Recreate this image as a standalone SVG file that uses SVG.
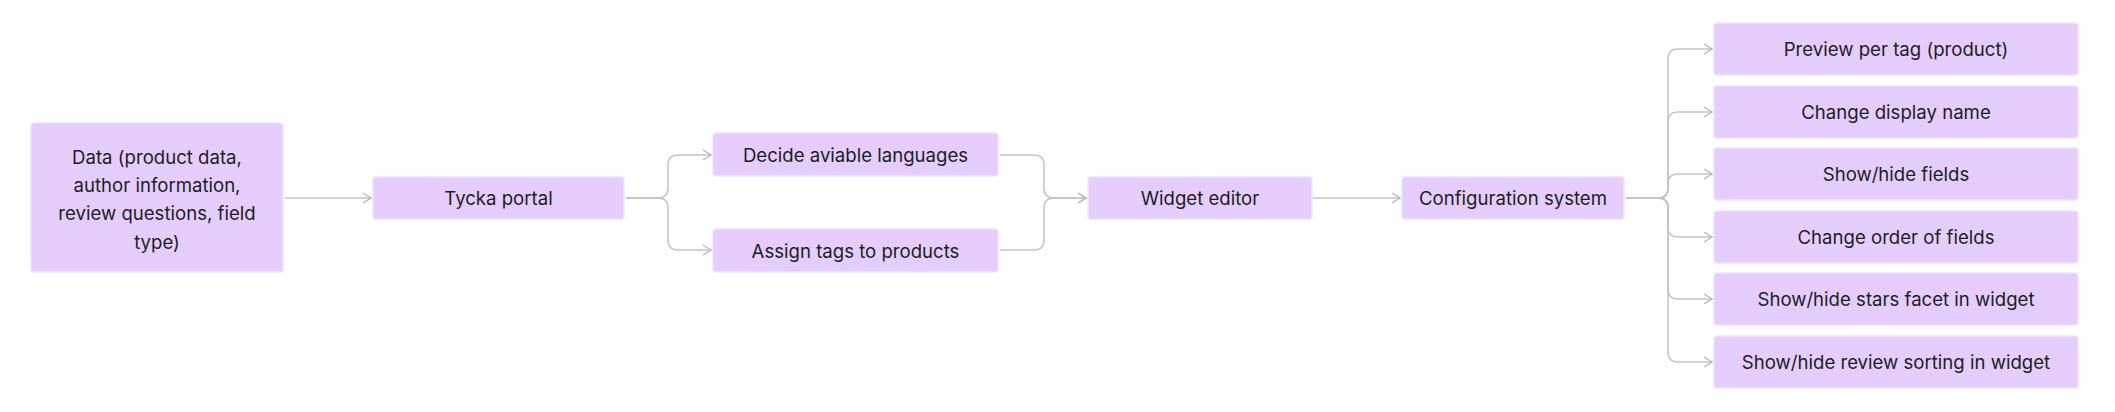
<svg xmlns="http://www.w3.org/2000/svg" width="2115" height="412" viewBox="0 0 2115 412">
<defs>
<style>
.box{fill:#e5cdfd;stroke:#efe2fb;stroke-width:1.5}
.lbl{font-family:Inter,"Liberation Sans",sans-serif;font-size:18.6px;fill:#1e1e1e;text-anchor:middle;dominant-baseline:central}
.c{fill:none;stroke:#c4c4c4;stroke-width:1.5}
</style>
<marker id="ah" viewBox="0 0 10 12" refX="9" refY="6" markerWidth="10" markerHeight="12" markerUnits="userSpaceOnUse" orient="auto">
<path d="M1,1 L9,6 L1,11" fill="none" stroke="#b8b8b8" stroke-width="1.3"/>
</marker>
</defs>
<rect width="2115" height="412" fill="#ffffff"/>
<g id="connectors">
<path class="c" d="M285,198 H371" marker-end="url(#ah)"/>
<path class="c" d="M626,198 H658 Q668,198 668,188 V165 Q668,155 678,155 H711" marker-end="url(#ah)"/>
<path class="c" d="M626,198 H658 Q668,198 668,208 V240 Q668,250 678,250 H711" marker-end="url(#ah)"/>
<path class="c" d="M1000,155 H1034 Q1044,155 1044,165 V188 Q1044,198 1054,198 H1086" marker-end="url(#ah)"/>
<path class="c" d="M1000,250 H1034 Q1044,250 1044,240 V208 Q1044,198 1054,198 H1086" marker-end="url(#ah)"/>
<path class="c" d="M1313,198 H1400" marker-end="url(#ah)"/>
<path class="c" d="M1626,198 H1658 Q1668,198 1668,188 V59 Q1668,49 1678,49 H1712" marker-end="url(#ah)"/>
<path class="c" d="M1626,198 H1658 Q1668,198 1668,188 V122 Q1668,112 1678,112 H1712" marker-end="url(#ah)"/>
<path class="c" d="M1626,198 H1658 Q1668,198 1668,188 V184 Q1668,174 1678,174 H1712" marker-end="url(#ah)"/>
<path class="c" d="M1626,198 H1658 Q1668,198 1668,208 V227 Q1668,237 1678,237 H1712" marker-end="url(#ah)"/>
<path class="c" d="M1626,198 H1658 Q1668,198 1668,208 V289 Q1668,299 1678,299 H1712" marker-end="url(#ah)"/>
<path class="c" d="M1626,198 H1658 Q1668,198 1668,208 V352 Q1668,362 1678,362 H1712" marker-end="url(#ah)"/>
</g>
<g id="data">
<rect class="box" x="31" y="123" width="252" height="149" rx="3"/>
<text class="lbl" x="157" y="157">Data (product data,</text>
<text class="lbl" x="157" y="185">author information,</text>
<text class="lbl" x="157" y="213">review questions, field</text>
<text class="lbl" x="157" y="242">type)</text>
</g>
<g id="tycka">
<rect class="box" x="373" y="177" width="251" height="42" rx="3"/>
<text class="lbl" x="498.5" y="198">Tycka portal</text>
</g>
<g id="decide">
<rect class="box" x="713" y="133" width="285" height="43" rx="3"/>
<text class="lbl" x="855.5" y="154.5">Decide aviable languages</text>
</g>
<g id="assign">
<rect class="box" x="713" y="229" width="285" height="43" rx="3"/>
<text class="lbl" x="855.5" y="250.5">Assign tags to products</text>
</g>
<g id="widget">
<rect class="box" x="1088" y="177" width="224" height="42" rx="3"/>
<text class="lbl" x="1200" y="198">Widget editor</text>
</g>
<g id="config">
<rect class="box" x="1402" y="177" width="222" height="42" rx="3"/>
<text class="lbl" x="1513" y="198">Configuration system</text>
</g>
<g id="preview">
<rect class="box" x="1714" y="23" width="364" height="52" rx="3"/>
<text class="lbl" x="1896" y="49">Preview per tag (product)</text>
</g>
<g id="displayname">
<rect class="box" x="1714" y="86" width="364" height="52" rx="3"/>
<text class="lbl" x="1896" y="112">Change display name</text>
</g>
<g id="fields">
<rect class="box" x="1714" y="148" width="364" height="52" rx="3"/>
<text class="lbl" x="1896" y="174">Show/hide fields</text>
</g>
<g id="order">
<rect class="box" x="1714" y="211" width="364" height="52" rx="3"/>
<text class="lbl" x="1896" y="237">Change order of fields</text>
</g>
<g id="stars">
<rect class="box" x="1714" y="273" width="364" height="52" rx="3"/>
<text class="lbl" x="1896" y="299">Show/hide stars facet in widget</text>
</g>
<g id="sorting">
<rect class="box" x="1714" y="336" width="364" height="52" rx="3"/>
<text class="lbl" x="1896" y="362">Show/hide review sorting in widget</text>
</g>
</svg>
